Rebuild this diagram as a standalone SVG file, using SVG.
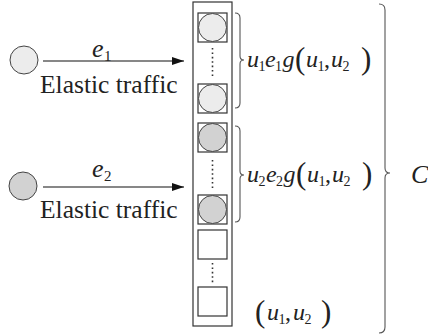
<svg xmlns="http://www.w3.org/2000/svg" width="428" height="334" viewBox="0 0 428 334" font-family="'Liberation Serif', 'Times New Roman', 'DejaVu Serif', serif">
<defs>
<marker id="ah" markerWidth="12" markerHeight="8" refX="12" refY="4" orient="auto" markerUnits="userSpaceOnUse">
<path d="M0,0 L12,4 L0,8 Z" fill="#111"/>
</marker>
<style>
.src{stroke:#444;stroke-width:1}
.light{fill:#ececec}
.dark{fill:#d2d2d2}
.box{fill:#fff;stroke:#333;stroke-width:1.2}
.sq{fill:#fff;stroke:#333;stroke-width:1.2}
.dots{stroke:#333;stroke-width:1.6;stroke-dasharray:1.6 2.8}
.brace{fill:none;stroke:#555;stroke-width:1.1}
.t{fill:#222}
.it{font-style:italic}
</style>
</defs>
<rect width="428" height="334" fill="#fff"/>
<g id="source1"><circle class="src light" cx="24" cy="60" r="14"/></g>
<g id="source2"><circle class="src dark" cx="23" cy="186" r="14"/></g>
<g id="connectors">
<line x1="43" y1="61" x2="184" y2="61" stroke="#111" stroke-width="1.2" marker-end="url(#ah)"/>
<line x1="43" y1="187" x2="184" y2="187" stroke="#111" stroke-width="1.2" marker-end="url(#ah)"/>
</g>
<g id="label1">
<text class="t it" x="92" y="57" font-size="26">e</text><text class="t" x="104" y="61" font-size="15">1</text>
<text class="t" x="40" y="93" font-size="25.5">Elastic traffic</text>
</g>
<g id="label2">
<text class="t it" x="92" y="177" font-size="26">e</text><text class="t" x="104" y="181" font-size="15">2</text>
<text class="t" x="40" y="218" font-size="25.5">Elastic traffic</text>
</g>
<g id="buffer">
<rect class="box" x="193" y="2" width="39" height="324"/>
<rect class="sq" x="198" y="13" width="29" height="29"/><circle class="src light" cx="212.5" cy="27.5" r="14"/>
<line class="dots" x1="212.5" y1="48" x2="212.5" y2="77"/>
<rect class="sq" x="198" y="84" width="29" height="29"/><circle class="src light" cx="212.5" cy="98.5" r="14"/>
<rect class="sq" x="198" y="123" width="29" height="29"/><circle class="src dark" cx="212.5" cy="137.5" r="14"/>
<line class="dots" x1="212.5" y1="160" x2="212.5" y2="189"/>
<rect class="sq" x="198" y="195" width="29" height="29"/><circle class="src dark" cx="212.5" cy="209.5" r="14"/>
<rect class="sq" x="198" y="230" width="29" height="29"/>
<line class="dots" x1="212.5" y1="263" x2="212.5" y2="283"/>
<rect class="sq" x="198" y="287" width="29" height="29"/>
</g>
<g id="brace1">
<path class="brace" d="M235,13 Q240,13 240,18 L240,56 Q240,60 244,60 Q240,60 240,64 L240,103 Q240,108 235,108"/>
<text class="t" y="67"><tspan class="it" x="247" font-size="24">u</tspan><tspan x="258.5" dy="4" font-size="14">1</tspan><tspan class="it" x="265" dy="-4" font-size="24">e</tspan><tspan x="275" dy="4" font-size="14">1</tspan><tspan class="it" x="282.5" dy="-4" font-size="24">g</tspan><tspan x="295" dy="2" font-size="31">(</tspan><tspan class="it" x="306" dy="-2" font-size="24">u</tspan><tspan x="317.5" dy="4" font-size="14">1</tspan><tspan x="324" dy="-4" font-size="24">,</tspan><tspan class="it" x="331" font-size="24">u</tspan><tspan x="342.5" dy="4" font-size="14">2</tspan><tspan x="361" dy="-2" font-size="31">)</tspan></text>
</g>
<g id="brace2">
<path class="brace" d="M235,126 Q240,126 240,131 L240,171 Q240,175 244,175 Q240,175 240,179 L240,217 Q240,222 235,222"/>
<text class="t" y="182"><tspan class="it" x="247" font-size="24">u</tspan><tspan x="258.5" dy="4" font-size="14">2</tspan><tspan class="it" x="266" dy="-4" font-size="24">e</tspan><tspan x="276" dy="4" font-size="14">2</tspan><tspan class="it" x="283.5" dy="-4" font-size="24">g</tspan><tspan x="296" dy="2" font-size="31">(</tspan><tspan class="it" x="307" dy="-2" font-size="24">u</tspan><tspan x="318.5" dy="4" font-size="14">1</tspan><tspan x="325" dy="-4" font-size="24">,</tspan><tspan class="it" x="332" font-size="24">u</tspan><tspan x="343.5" dy="4" font-size="14">2</tspan><tspan x="362" dy="-2" font-size="31">)</tspan></text>
</g>
<g id="state">
<text class="t" y="320"><tspan x="255" dy="2" font-size="31">(</tspan><tspan class="it" x="267" dy="-2" font-size="24">u</tspan><tspan x="278.5" dy="4" font-size="14">1</tspan><tspan x="285" dy="-4" font-size="24">,</tspan><tspan class="it" x="293" font-size="24">u</tspan><tspan x="304.5" dy="4" font-size="14">2</tspan><tspan x="321" dy="-2" font-size="31">)</tspan></text>
</g>
<g id="brace3">
<path class="brace" d="M379,4 Q385,4 385,10 L385,168 Q385,173 390,173 Q385,173 385,178 L385,327 Q385,333 379,333"/>
<text class="t it" x="411" y="183" font-size="26">C</text>
</g>
</svg>
